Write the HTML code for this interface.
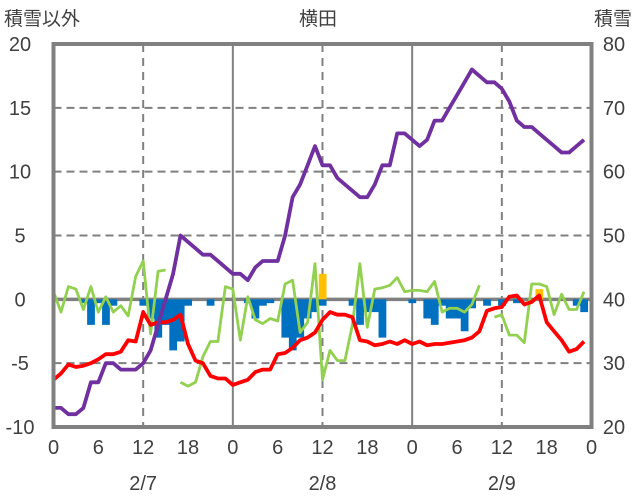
<!DOCTYPE html>
<html><head><meta charset="utf-8"><style>
body{margin:0;background:#fff;}
svg{display:block;font-family:"Liberation Sans","Noto Sans CJK JP",sans-serif;}
</style></head><body>
<svg id="chart" width="636" height="501" viewBox="0 0 636 501">
<g id="grid"></g>
<g id="bars"></g>
<g id="lines"></g>
<g id="axes"></g>
<text x="4" y="25" font-size="19" fill="#404040">積雪以外</text>
<text x="318" y="25" font-size="19" fill="#404040" text-anchor="middle">横田</text>
<text x="632" y="25" font-size="19" fill="#404040" text-anchor="end">積雪</text>
</svg>
<script>
const leftTicks=[20,15,10,5,0,-5,-10];
const rightTicks=[80,70,60,50,40,30,20];
const xTickLabels=["0","6","12","18","0","6","12","18","0","6","12","18","0"];
const dateLabels=["2/7","2/8","2/9"];
const purple=[-8.5,-8.5,-9,-9,-8.5,-6.5,-6.5,-5,-5,-5.5,-5.5,-5.5,-5,-4,-2,0,2,5,4.5,4,3.5,3.5,3,2.5,2,2,1.5,2.5,3,3,3,5,8,9,10.5,12,10.5,10.5,9.5,9,8.5,8,8,9,10.5,10.5,13,13,12.5,12,12.5,14,14,15,16,17,18,17.5,17,17,16.5,15.5,14,13.5,13.5,13,12.5,12,11.5,11.5,12,12.5];
const red=[-6.3,-5.8,-5.1,-5.3,-5.2,-5,-4.7,-4.3,-4.3,-4.1,-3.2,-3.3,-1,-2,-1.8,-1.8,-1.6,-1.2,-3.5,-4.8,-5,-6,-6.2,-6.2,-6.7,-6.5,-6.3,-5.7,-5.5,-5.5,-4.3,-4.2,-3.8,-3.2,-3,-2.6,-1.6,-1,-1.2,-1.2,-1.4,-3.2,-3.3,-3.6,-3.5,-3.3,-3.5,-3.2,-3.5,-3.3,-3.6,-3.5,-3.5,-3.4,-3.3,-3.2,-3,-2.5,-0.9,-0.7,-0.6,0.2,0.3,-0.4,-0.2,0.3,-1.8,-2.5,-3.2,-4.1,-3.9,-3.3];
const green=[0.6,-1,1,0.8,-0.8,1,-1,0.2,-1,-0.5,-1.3,1.8,3,-2.7,2.2,2.3,null,-6.5,-6.8,-6.5,-4.5,-3.3,-3.3,1,0.8,-3.2,0.2,-1.6,-1.9,-1.5,-1.7,1.2,1.5,-2.6,-1.8,2.8,-6.3,-4,-4.8,-4.8,-2,2.8,-2.2,0.8,0.9,1.1,1.7,0.6,0.7,0.7,0.6,1.4,-1,-0.7,-0.7,-1,-0.4,1.1,null,-1.4,-1.2,-2.8,-2.8,-3.4,1.2,1.2,1,-1.2,0.4,-0.8,-0.8,0.6];
const blueBars=[0,0,0,0,-0.3,-2,-0.3,-2,-0.5,0,0,0,-0.5,-1.5,-3,-2,-4,-3.3,-0.5,0,0,-0.5,0,0,0,0,-0.3,-1.5,-0.5,-0.3,0,-3,-4,-3,-1.5,-1,-0.5,0,0,0,-0.5,-2,-1,-1,-3,0,0,0,-0.3,0,-1.5,-2,-0.5,-1.5,-1.5,-2.5,-0.7,0,-0.5,0,-0.5,0,-0.3,0,0,0,0,0,0,0,-0.5,-1];
const orangeBars=[0,0,0,0,0,0,0,0,0,0,0,0,0,0,0,0,0,0,0,0,0,0,0,0,0,0,0,0,0,0,0,0,0,0,0,0,2,0,0,0,0,0,0,0,0,0,0,0,0,0,0,0,0,0,0,0,0,0,0,0,0,0,0,0,0,0.8,0,0,0,0,0,0];

const X0=53.5,X1=591.5,Y0=44,Y1=427;
const xs=h=>X0+h*(X1-X0)/72;
const ys=v=>Y0+(20-v)*(Y1-Y0)/30;
const NS="http://www.w3.org/2000/svg";
function mk(tag,attrs,parent){const e=document.createElementNS(NS,tag);for(const k in attrs)e.setAttribute(k,attrs[k]);document.getElementById(parent).appendChild(e);return e;}
leftTicks.forEach(v=>{ if(v===20||v===-10||v===0)return;
 const l=mk('line',{x1:X0,x2:X1,y1:ys(v),y2:ys(v),stroke:'#808080','stroke-width':2,'stroke-dasharray':'8,5'},'grid');
 
 });
[12,24,36,48,60].forEach(h=>{
 const solid=h%24===0;
 const l=mk('line',{x1:xs(h),x2:xs(h),y1:Y0,y2:Y1,stroke:'#808080','stroke-width':2,'stroke-dasharray':solid?'none':'8,6'},'grid');
 
 });
const bw=(X1-X0)/72;
blueBars.forEach((v,i)=>{ if(!v)return;
 const r=mk('rect',{x:xs(i)-bw/2,y:ys(0),width:bw+0.3,height:ys(v)-ys(0),fill:'#0070c0'},'bars');
 
 });
orangeBars.forEach((v,i)=>{ if(!v)return;
 const r=mk('rect',{x:xs(i)-bw/2,y:ys(v),width:bw+0.3,height:ys(0)-ys(v),fill:'#ffc000'},'bars');
 
 });
const z=mk('line',{x1:X0,x2:X1,y1:ys(0),y2:ys(0),stroke:'#808080','stroke-width':3.5},'grid');


function pathOf(arr){let d='',pen=false;arr.forEach((v,i)=>{if(v===null){pen=false;return;}d+=(pen?'L':'M')+xs(i).toFixed(1)+','+ys(v).toFixed(1);pen=true;});return d;}
const g=mk('path',{d:pathOf(green),fill:'none',stroke:'#92d050','stroke-width':2.8,'stroke-linejoin':'round'},'lines');


const r=mk('path',{d:pathOf(red),fill:'none',stroke:'#ff0000','stroke-width':3.8,'stroke-linejoin':'round'},'lines');


const p=mk('path',{d:pathOf(purple),fill:'none',stroke:'#7030a0','stroke-width':3.8,'stroke-linejoin':'round'},'lines');


const f=mk('rect',{x:X0,y:Y0,width:X1-X0,height:Y1-Y0,fill:'none',stroke:'#808080','stroke-width':4},'axes');


leftTicks.forEach(v=>{const t=mk('text',{x:20,y:ys(v)+7,'font-size':20,fill:'#404040','text-anchor':'middle'},'axes');t.textContent=v;
 
 });
rightTicks.forEach((v,i)=>{const t=mk('text',{x:614,y:ys(leftTicks[i])+7,'font-size':20,fill:'#404040','text-anchor':'middle'},'axes');t.textContent=v;
 
 });
xTickLabels.forEach((s,i)=>{const t=mk('text',{x:xs(i*6),y:454,'font-size':20,fill:'#404040','text-anchor':'middle'},'axes');t.textContent=s;
 
 });
dateLabels.forEach((s,i)=>{const t=mk('text',{x:xs(12+24*i),y:490,'font-size':20,fill:'#404040','text-anchor':'middle'},'axes');t.textContent=s;
 
 });
</script>
</body></html>
